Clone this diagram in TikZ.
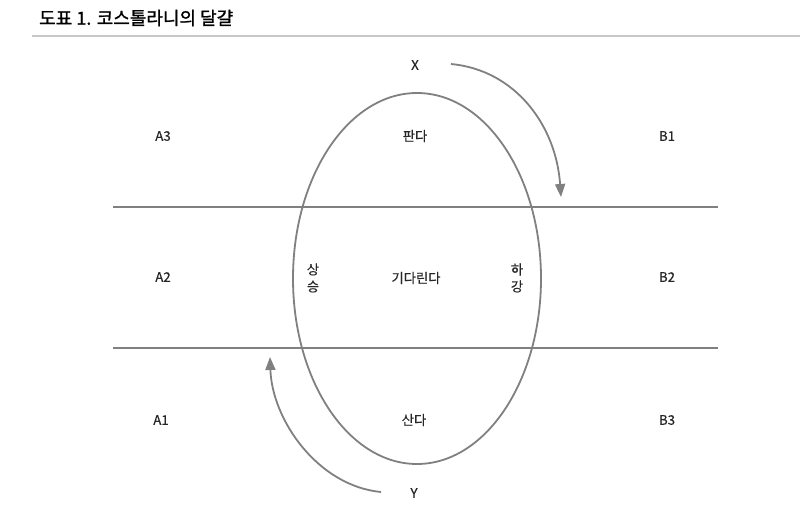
\documentclass[tikz,border=0pt]{standalone}
\usepackage{fontspec}
\setmainfont{Noto Sans CJK KR}
\newfontfamily\titlefont{Noto Sans CJK KR}[FakeBold=1.2]
\newfontfamily\lblfont{Noto Sans CJK KR}[FakeBold=0.4]
\usetikzlibrary{arrows.meta}
\definecolor{lg}{HTML}{808080}
\definecolor{rule}{HTML}{C8C8C8}
\begin{document}
\begin{tikzpicture}[x=1pt,y=-1pt,
  lbl/.style={font=\lblfont\fontsize{13.3}{15}\selectfont, text=black!85, inner sep=0pt},
  gline/.style={draw=lg, line width=1.8pt},
  garrow/.style={draw=lg, line width=1.8pt, -{Triangle[width=10pt,length=13pt]}}]
\useasboundingbox (0,0) rectangle (800,516);
% title
\node[anchor=west, inner sep=0pt, font=\titlefont\fontsize{18}{21}\selectfont] (title) at (39,18) {도표 1. 코스톨라니의 달걀};
\draw[draw=rule, line width=2pt] (32,36) -- (800,36);
% horizontal lines
\coordinate (l1a) at (113,207); \coordinate (l1b) at (718,207);
\coordinate (l2a) at (113,348); \coordinate (l2b) at (718,348);
\draw[gline] (l1a) -- (l1b);
\draw[gline] (l2a) -- (l2b);
% egg
\draw[gline] (417,278.5) ellipse [x radius=124, y radius=185.5];
% labels
\node[lbl] (X) at (415,65) {X};
\node[lbl] (Y) at (414,493) {Y};
\node[lbl] (A3) at (163,136) {A3};
\node[lbl] (B1) at (667,136) {B1};
\node[lbl] (A2) at (163,277) {A2};
\node[lbl] (B2) at (667,277) {B2};
\node[lbl] (A1) at (161,420) {A1};
\node[lbl] (B3) at (667,420) {B3};
\node[lbl] (sell) at (415,136) {판다};
\node[lbl] (wait) at (416,278) {기다린다};
\node[lbl] (buy) at (414,420) {산다};
\node[lbl, align=center] (up) at (313,278) {상\\[2pt]승};
\node[lbl, align=center] (down) at (517,278) {하\\[2pt]강};
% arrows
\coordinate (xs) at (451,64);
\coordinate (xe) at (561,197);
\coordinate (ys) at (381,492);
\coordinate (ye) at (270,357);
\draw[garrow] (xs) .. controls (515,70) and (556,125) .. (xe);
\draw[garrow] (ys) .. controls (318,486) and (272,420) .. (ye);
\end{tikzpicture}
\end{document}
